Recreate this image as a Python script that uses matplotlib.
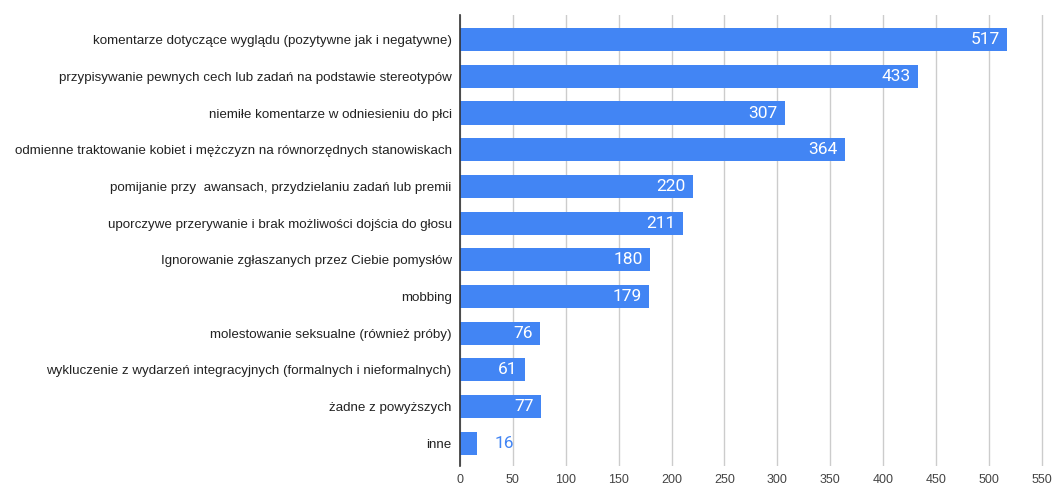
import matplotlib; matplotlib.use('Agg')
import matplotlib.pyplot as plt

categories = [
    "komentarze dotyczące wyglądu (pozytywne jak i negatywne)",
    "przypisywanie pewnych cech lub zadań na podstawie stereotypów",
    "niemiłe komentarze w odniesieniu do płci",
    "odmienne traktowanie kobiet i mężczyzn na równorzędnych stanowiskach",
    "pomijanie przy  awansach, przydzielaniu zadań lub premii",
    "uporczywe przerywanie i brak możliwości dojścia do głosu",
    "Ignorowanie zgłaszanych przez Ciebie pomysłów",
    "mobbing",
    "molestowanie seksualne (również próby)",
    "wykluczenie z wydarzeń integracyjnych (formalnych i nieformalnych)",
    "żadne z powyższych",
    "inne",
]
values = [517, 433, 307, 364, 220, 211, 180, 179, 76, 61, 77, 16]
xticks = list(range(0, 551, 50))

BLUE = '#4285F4'
fig = plt.figure(figsize=(10.54, 4.86), dpi=100)
ax = fig.add_axes([0.4364, 0.041, 0.5551, 0.928])

ypos = list(range(len(categories)))
ax.barh(ypos, values, height=0.63, color=BLUE, zorder=3)
ax.set_ylim(11.62, -0.67)
ax.set_xlim(0, 553)
ax.set_xticks(xticks)
ax.set_xticklabels([str(t) for t in xticks], fontsize=9, color='#444444', family='Liberation Sans')
ax.set_yticks(ypos)
ax.set_yticklabels(categories, fontsize=9.6, color='#222222', family='Liberation Sans')
ax.tick_params(axis='both', length=0, pad=6)
ax.grid(axis='x', color='#cccccc', lw=1, zorder=0)
for s in ['top', 'right', 'bottom']:
    ax.spines[s].set_visible(False)
ax.spines['left'].set_color('#333333')
ax.spines['left'].set_linewidth(1.2)
ax.spines['left'].set_zorder(4)

for y, v in zip(ypos, values):
    if v > 40:
        ax.text(v - 7, y, str(v), ha='right', va='center', color='white',
                fontsize=12.5, family='Roboto', zorder=5)
    else:
        ax.text(v + 17, y, str(v), ha='left', va='center', color=BLUE,
                fontsize=12.5, family='Roboto', zorder=5)

fig.savefig('out.png', dpi=100)
